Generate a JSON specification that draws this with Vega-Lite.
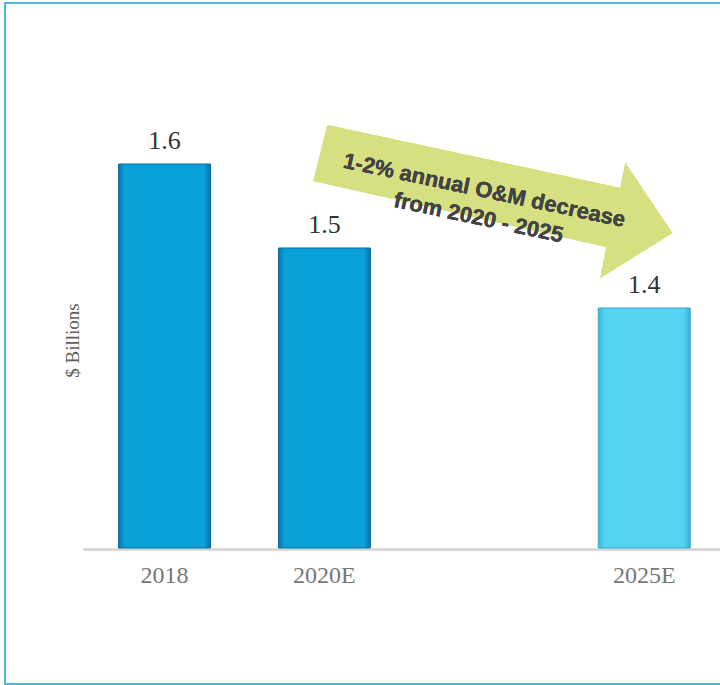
{
  "$schema": "https://vega.github.io/schema/vega-lite/v6.json",
  "autosize": {"type": "none"},
  "padding": {"left": 5, "top": 3, "right": -3, "bottom": 1},
  "width": 718,
  "height": 681,
  "background": "white",
  "config": {
    "view": {"stroke": "#4cb6dc", "strokeWidth": 2},
    "font": "Liberation Serif"
  },
  "data": {
    "values": [
      {"year": "2018", "value": 1.64, "highlight": "no"},
      {"year": "2020E", "value": 1.5, "highlight": "no"},
      {"year": "2025E", "value": 1.4, "highlight": "yes"}
    ]
  },
  "layer": [
    {
      "mark": {"type": "point", "filled": true, "color": "#d6e081", "opacity": 1, "strokeWidth": 0, "size": 160000,
        "shape": "M-0.785,-0.375L0.68,-0.06L0.705,-0.185L0.94,0.165L0.58,0.39L0.61,0.235L-0.855,-0.095Z"},
      "encoding": {
        "x": {"datum": "gap", "type": "nominal"},
        "y": {"datum": 1.58, "type": "quantitative"}
      }
    },
    {
      "mark": {"type": "rule", "color": "#d6d6d6", "strokeWidth": 2, "xOffset": -81, "x2Offset": 80, "yOffset": 1.5},
      "encoding": {
        "x": {"datum": "2018", "type": "nominal"},
        "x2": {"datum": "2025E"},
        "y": {"datum": 1.0, "type": "quantitative"}
      }
    },
    {
      "transform": [{"filter": "datum.highlight == 'no'"}],
      "mark": {"type": "bar", "stroke": "#0b6e9c", "strokeWidth": 1,
        "fill": {"gradient": "linear", "x1": 0, "x2": 1, "y1": 0, "y2": 0,
          "stops": [{"offset": 0, "color": "#0a78ab"}, {"offset": 0.07, "color": "#0aa0da"}, {"offset": 0.93, "color": "#0aa0da"}, {"offset": 1, "color": "#07729f"}]}},
      "encoding": {
        "x": {"field": "year", "type": "nominal",
          "scale": {"domain": ["2018", "2020E", "gap", "2025E"], "paddingInner": 0.425, "paddingOuter": 0.4575, "align": 0.776},
          "axis": {"orient": "bottom", "offset": -136, "title": null, "domain": false, "ticks": false, "tickSize": 0,
            "labelAngle": 0, "labelAlign": "center", "labelPadding": 27, "labelFont": "Liberation Serif", "labelFontSize": 24, "labelColor": "#777777",
            "labelExpr": "datum.value == 'gap' ? '' : datum.value"}},
        "y": {"field": "value", "type": "quantitative",
          "scale": {"domain": [0.773333, 1.908333], "nice": false, "zero": false},
          "axis": {"title": "$ Billions", "labels": false, "ticks": false, "domain": false, "grid": false,
            "titleFont": "Liberation Serif", "titleFontSize": 19, "titleFontWeight": "normal", "titleColor": "#606060",
            "titleX": 67, "titleY": 337, "titleAngle": -90, "titleAlign": "center", "titleBaseline": "middle"}},
        "y2": {"datum": 1.0}
      }
    },
    {
      "transform": [{"filter": "datum.highlight == 'yes'"}],
      "mark": {"type": "bar", "stroke": "#3aa9cc", "strokeWidth": 1,
        "fill": {"gradient": "linear", "x1": 0, "x2": 1, "y1": 0, "y2": 0,
          "stops": [{"offset": 0, "color": "#3fb4d8"}, {"offset": 0.07, "color": "#55d3f3"}, {"offset": 0.93, "color": "#55d3f3"}, {"offset": 1, "color": "#3aaed2"}]}},
      "encoding": {
        "x": {"field": "year", "type": "nominal"},
        "y": {"field": "value", "type": "quantitative"},
        "y2": {"datum": 1.0}
      }
    },
    {
      "mark": {"type": "text", "font": "Liberation Serif", "fontSize": 26, "color": "#333333", "baseline": "alphabetic", "align": "center", "dy": -15},
      "encoding": {
        "x": {"field": "year", "type": "nominal"},
        "y": {"field": "value", "type": "quantitative"},
        "text": {"field": "value", "format": ".1f"}
      }
    },
    {
      "mark": {"type": "text", "font": "Liberation Sans", "fontWeight": "bold", "fontSize": 22, "color": "#444444",
        "angle": 12, "align": "center", "baseline": "middle", "lineHeight": 28},
      "encoding": {
        "x": {"datum": "gap", "type": "nominal"},
        "y": {"datum": 1.596, "type": "quantitative"},
        "text": {"value": ["1-2% annual O&M decrease", "from 2020 - 2025"]}
      }
    }
  ]
}
